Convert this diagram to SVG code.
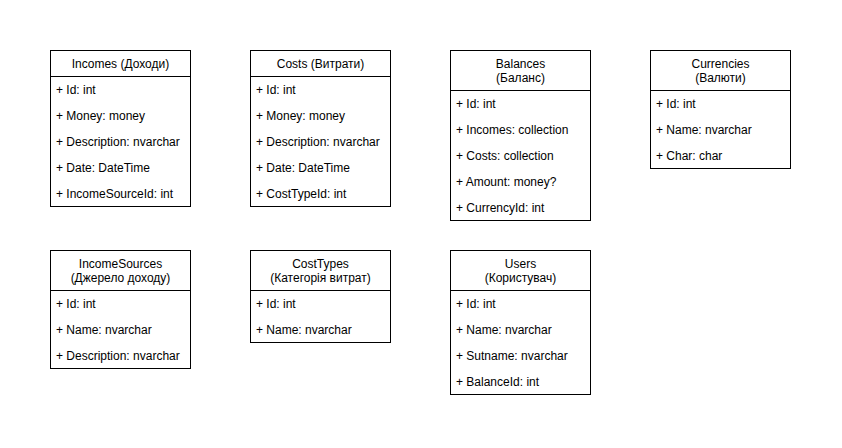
<svg xmlns="http://www.w3.org/2000/svg" width="842" height="448" viewBox="0 0 842 448">
<style>
.box{fill:#ffffff;stroke:#000000;stroke-width:1}
.t{font-family:"Liberation Sans",Arial,sans-serif;font-size:12px;fill:#000000}
.h{text-anchor:middle}
</style>
<rect x="0" y="0" width="842" height="448" fill="#ffffff"/>
<g id="incomes">
<rect class="box" x="50.5" y="50.5" width="140" height="156"/>
<line class="box" x1="50.5" y1="76.5" x2="190.5" y2="76.5"/>
<text class="t h" x="120.5" y="68">Incomes (Доходи)</text>
<text class="t" x="56" y="94">+ Id: int</text>
<text class="t" x="56" y="120">+ Money: money</text>
<text class="t" x="56" y="146">+ Description: nvarchar</text>
<text class="t" x="56" y="172">+ Date: DateTime</text>
<text class="t" x="56" y="198">+ IncomeSourceId: int</text>
</g>
<g id="costs">
<rect class="box" x="250.5" y="50.5" width="140" height="156"/>
<line class="box" x1="250.5" y1="76.5" x2="390.5" y2="76.5"/>
<text class="t h" x="320.5" y="68">Costs (Витрати)</text>
<text class="t" x="256" y="94">+ Id: int</text>
<text class="t" x="256" y="120">+ Money: money</text>
<text class="t" x="256" y="146">+ Description: nvarchar</text>
<text class="t" x="256" y="172">+ Date: DateTime</text>
<text class="t" x="256" y="198">+ CostTypeId: int</text>
</g>
<g id="balances">
<rect class="box" x="450.5" y="50.5" width="140" height="170"/>
<line class="box" x1="450.5" y1="90.5" x2="590.5" y2="90.5"/>
<text class="t h" x="520.5" y="68">Balances</text>
<text class="t h" x="520.5" y="82">(Баланс)</text>
<text class="t" x="456" y="108">+ Id: int</text>
<text class="t" x="456" y="134">+ Incomes: collection</text>
<text class="t" x="456" y="160">+ Costs: collection</text>
<text class="t" x="456" y="186">+ Amount: money?</text>
<text class="t" x="456" y="212">+ CurrencyId: int</text>
</g>
<g id="currencies">
<rect class="box" x="650.5" y="50.5" width="140" height="118"/>
<line class="box" x1="650.5" y1="90.5" x2="790.5" y2="90.5"/>
<text class="t h" x="720.5" y="68">Currencies</text>
<text class="t h" x="720.5" y="82">(Валюти)</text>
<text class="t" x="656" y="108">+ Id: int</text>
<text class="t" x="656" y="134">+ Name: nvarchar</text>
<text class="t" x="656" y="160">+ Char: char</text>
</g>
<g id="incomesources">
<rect class="box" x="50.5" y="250.5" width="140" height="118"/>
<line class="box" x1="50.5" y1="290.5" x2="190.5" y2="290.5"/>
<text class="t h" x="120.5" y="268">IncomeSources</text>
<text class="t h" x="120.5" y="282">(Джерело доходу)</text>
<text class="t" x="56" y="308">+ Id: int</text>
<text class="t" x="56" y="334">+ Name: nvarchar</text>
<text class="t" x="56" y="360">+ Description: nvarchar</text>
</g>
<g id="costtypes">
<rect class="box" x="250.5" y="250.5" width="140" height="92"/>
<line class="box" x1="250.5" y1="290.5" x2="390.5" y2="290.5"/>
<text class="t h" x="320.5" y="268">CostTypes</text>
<text class="t h" x="320.5" y="282">(Категорія витрат)</text>
<text class="t" x="256" y="308">+ Id: int</text>
<text class="t" x="256" y="334">+ Name: nvarchar</text>
</g>
<g id="users">
<rect class="box" x="450.5" y="250.5" width="140" height="144"/>
<line class="box" x1="450.5" y1="290.5" x2="590.5" y2="290.5"/>
<text class="t h" x="520.5" y="268">Users</text>
<text class="t h" x="520.5" y="282">(Користувач)</text>
<text class="t" x="456" y="308">+ Id: int</text>
<text class="t" x="456" y="334">+ Name: nvarchar</text>
<text class="t" x="456" y="360">+ Sutname: nvarchar</text>
<text class="t" x="456" y="386">+ BalanceId: int</text>
</g>
<g id="connectors"></g>
</svg>
